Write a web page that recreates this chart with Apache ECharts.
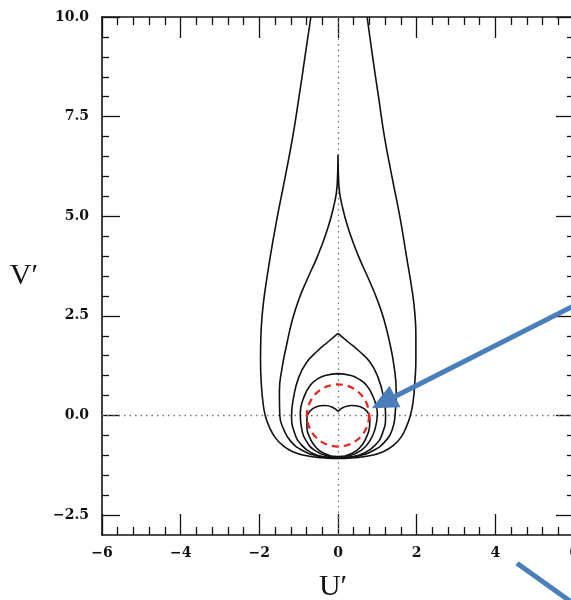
<!DOCTYPE html>
<html>
<head>
<meta charset="utf-8">
<script src="https://cdn.jsdelivr.net/npm/echarts@6/dist/echarts.min.js"></script>
<style>html,body{margin:0;padding:0;background:#fff;overflow:hidden;}#c{width:571px;height:600px;}</style>
</head>
<body>
<div id="c"></div>
<script>
// ---- data (U', V') ----
const xTicks = [-6, -4, -2, 0, 2, 4, 6];
const yMajorTicks = [-2.5, 0, 2.5, 5, 7.5, 10];
const yMinorTicks = [-2, -1.5, -1, -0.5, 0.5, 1, 1.5, 2, 3, 3.5, 4, 4.5, 5.5, 6, 6.5, 7, 8, 8.5, 9, 9.5];

// outermost open contour
const curveA = [[-0.69,10],[-0.84,9],[-0.99,8],[-1.15,7],[-1.34,6],[-1.54,5],[-1.72,4],[-1.86,3.1],[-1.92,2.6],
  [-1.96,2.0],[-1.97,1.4],[-1.95,0.8],[-1.91,0.35],[-1.85,0.0],[-1.75,-0.28],[-1.6,-0.55],[-1.4,-0.76],
  [-1.15,-0.91],[-0.8,-1.01],[-0.4,-1.06],[0,-1.08],[0.4,-1.06],[0.8,-1.01],[1.15,-0.91],[1.4,-0.76],
  [1.6,-0.55],[1.74,-0.28],[1.84,0.0],[1.91,0.35],[1.95,0.8],[1.98,1.4],[1.98,2.0],[1.95,2.6],[1.89,3.1],
  [1.74,4],[1.57,5],[1.37,6],[1.18,7],[1.03,8],[0.88,9],[0.74,10]];
// teardrop with spike at the top
const curveB = [[0,6.54],[-0.02,5.8],[-0.12,5.2],[-0.3,4.58],[-0.52,4.0],[-0.79,3.4],[-1.0,2.9],[-1.16,2.4],[-1.3,1.8],
  [-1.42,1.2],[-1.49,0.6],[-1.48,0.0],[-1.38,-0.35],[-1.2,-0.65],[-0.9,-0.88],[-0.5,-1.02],[0,-1.07],[0.5,-1.02],
  [0.9,-0.88],[1.2,-0.65],[1.38,-0.35],[1.45,0.0],[1.48,0.6],[1.43,1.2],[1.32,1.8],[1.17,2.4],[1.0,2.9],[0.79,3.4],
  [0.52,4.0],[0.3,4.58],[0.12,5.2],[0.02,5.8],[0,6.54]];
// contour with cusp at V'=2.06
const curveC = [[0,2.06],[-0.25,1.85],[-0.51,1.63],[-0.8,1.33],[-1.0,0.95],[-1.13,0.45],[-1.18,0.0],[-1.1,-0.45],
  [-0.92,-0.75],[-0.65,-0.95],[-0.35,-1.04],[0,-1.07],[0.35,-1.04],[0.65,-0.95],[0.94,-0.75],[1.13,-0.45],[1.21,0.0],
  [1.16,0.45],[1.02,0.95],[0.82,1.33],[0.52,1.63],[0.25,1.85],[0,2.06]];
// rounded contour
const curveD = [[0,1.05],[-0.3,1.01],[-0.5,0.93],[-0.71,0.75],[-0.87,0.45],[-0.96,0.05],[-0.92,-0.35],[-0.8,-0.65],
  [-0.6,-0.87],[-0.3,-1.01],[0,-1.05],[0.3,-1.01],[0.6,-0.87],[0.8,-0.65],[0.94,-0.35],[1.0,0.05],[0.9,0.45],
  [0.73,0.75],[0.5,0.93],[0.3,1.01],[0,1.05]];
// innermost heart-shaped contour
const curveE = [[0,0.1],[-0.13,0.2],[-0.33,0.25],[-0.55,0.22],[-0.72,0.1],[-0.79,-0.1],[-0.79,-0.3],[-0.72,-0.55],
  [-0.58,-0.78],[-0.36,-0.95],[0,-1.03],[0.36,-0.95],[0.58,-0.78],[0.72,-0.55],[0.8,-0.3],[0.81,-0.1],[0.74,0.1],
  [0.57,0.22],[0.34,0.25],[0.13,0.2],[0,0.1]];
const curves = [curveA, curveB, curveC, curveD, curveE];

// annotation anchors (data coordinates)
const circleCenter = [0, 0];
const circleRadiusU = 0.79;
const arrow1 = { from: [6.45, 2.98], to: [0.86, 0.18] };
const arrow2 = { from: [4.55, -3.71], to: [6.1, -4.8] };

// ---- chart ----
const chart = echarts.init(document.getElementById('c'), null, { renderer: 'canvas' });
const ink = '#111';
const labelFont = { color: ink, fontFamily: 'DejaVu Serif', fontWeight: 'bold', fontSize: 14 };
const minus = v => (v < 0 ? '\u2212' + (-v) : '' + v);

function xAx(pos, showLabel) {
  return {
    type: 'value', position: pos, min: -6, max: 6, interval: 2,
    axisLine: { show: true, onZero: false, lineStyle: { color: ink, width: 1.6 } },
    axisTick: { show: true, inside: true, length: 21, lineStyle: { color: ink, width: 1.3 } },
    minorTick: { show: true, splitNumber: 5, length: 8, lineStyle: { color: ink, width: 1.3 } },
    axisLabel: Object.assign({ show: showLabel, margin: 11, showMaxLabel: true, showMinLabel: true,
      formatter: v => minus(v) }, labelFont),
    splitLine: { show: false }, minorSplitLine: { show: false },
    name: showLabel ? 'U\u2032' : '', nameLocation: 'middle', nameGap: 37,
    nameTextStyle: { color: ink, fontFamily: 'Liberation Serif', fontSize: 30, padding: [0, 10, 0, 0] }
  };
}
function yAx(pos, major, showLabel, showLine) {
  const vals = major ? yMajorTicks : yMinorTicks;
  return {
    type: 'value', position: pos, min: -3, max: 10,
    axisLine: { show: showLine, onZero: false, lineStyle: { color: ink, width: 1.6 } },
    axisTick: { show: true, inside: true, length: major ? 18 : 7, customValues: vals,
      lineStyle: { color: ink, width: 1.3 } },
    axisLabel: Object.assign({ show: showLabel, margin: 13, customValues: vals,
      formatter: v => (v < 0 ? '\u2212' + (-v).toFixed(1) : v.toFixed(1)) }, labelFont),
    splitLine: { show: false },
    name: showLabel ? 'V\u2032' : '', nameLocation: 'middle', nameGap: 64, nameRotate: 0,
    nameTextStyle: { color: ink, fontFamily: 'Liberation Serif', fontSize: 30 }
  };
}

const series = curves.map((c, i) => ({
  type: 'line', data: c, xAxisIndex: 0, yAxisIndex: 0, showSymbol: false, smooth: 0.5,
  lineStyle: { color: ink, width: 1.6 }, silent: true, animation: false, z: 3,
  markLine: i === 0 ? {
    silent: true, symbol: ['none', 'none'], label: { show: false },
    lineStyle: { color: '#777', type: [1.5, 4], width: 1.3 },
    data: [{ xAxis: 0 }, { yAxis: 0 }], z: 1
  } : undefined
}));

chart.setOption({
  animation: false,
  backgroundColor: '#fff',
  grid: { left: 102, top: 17, width: 472, height: 518, containLabel: false, outerBoundsMode: 'none' },
  xAxis: [xAx('bottom', true), xAx('top', false)],
  yAxis: [yAx('left', true, true, true), yAx('left', false, false, false),
          yAx('right', true, false, true), yAx('right', false, false, false)],
  series: series
});

// ---- annotations, placed through the axes' scales ----
const px = p => chart.convertToPixel({ xAxisIndex: 0, yAxisIndex: 0 }, p);
const c0 = px(circleCenter);
const rPx = px([circleCenter[0] + circleRadiusU, circleCenter[1]])[0] - c0[0];
const blue = '#4a7ebb';
function arrowEls(a, head) {
  const p1 = px(a.from), p2 = px(a.to);
  const dx = p2[0] - p1[0], dy = p2[1] - p1[1], L = Math.hypot(dx, dy);
  const ux = dx / L, uy = dy / L, hl = 26, hw = 12;
  const bx = p2[0] - ux * hl, by = p2[1] - uy * hl;
  const els = [{
    type: 'line', z: 100,
    shape: { x1: p1[0], y1: p1[1], x2: head ? bx + ux * 4 : p2[0], y2: head ? by + uy * 4 : p2[1] },
    style: { stroke: blue, lineWidth: 5 }
  }];
  if (head) els.push({
    type: 'polygon', z: 100,
    shape: { points: [[p2[0], p2[1]], [bx - uy * hw, by + ux * hw], [bx + uy * hw, by - ux * hw]] },
    style: { fill: blue }
  });
  return els;
}
chart.setOption({
  graphic: [
    { type: 'circle', z: 90, shape: { cx: c0[0], cy: c0[1], r: rPx },
      style: { fill: 'none', stroke: '#e8221c', lineWidth: 2.2, lineDash: [7, 5] } },
    ...arrowEls(arrow1, true),
    ...arrowEls(arrow2, false)
  ]
});
</script>
</body>
</html>
